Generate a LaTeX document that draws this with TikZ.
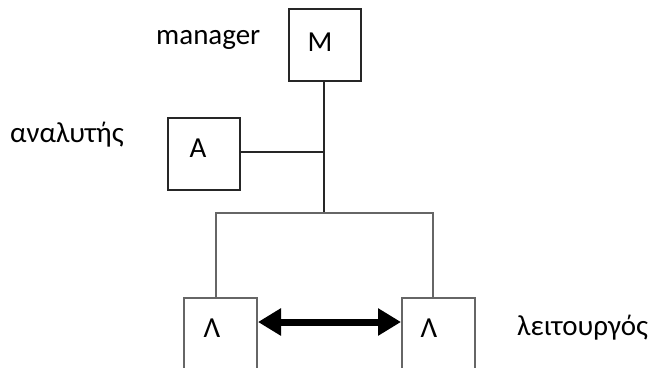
\documentclass[tikz,border=0pt]{standalone}
\usepackage{fontspec}
\setmainfont{Carlito}
\usetikzlibrary{arrows.meta}
\begin{document}
\begin{tikzpicture}[x=1pt,y=-1pt,
  boxa/.style={draw=black!85,line width=1.6pt,minimum width=72pt,minimum height=72pt,inner sep=0pt,anchor=north west},
  boxb/.style={draw=black!60,line width=2pt,minimum width=73pt,minimum height=90pt,inner sep=0pt,anchor=north west},
  lbl/.style={font=\fontsize{29}{32}\selectfont,inner sep=0pt},
  conn/.style={draw=black!85,line width=1.3pt},
  connb/.style={draw=black!60,line width=1.8pt}]
\useasboundingbox (0,0) rectangle (653,367);
\clip (0,0) rectangle (653,367);
\node[boxa] (M) at (288,8) {};
\node[boxa] (A) at (167,117) {};
\node[boxb] (L1) at (183,297) {};
\node[boxb] (L2) at (401,297) {};
\node[lbl] (tM) at (320,42) {M};
\node[lbl] (tA) at (198,148) {A};
\node[lbl] (tL1) at (212,328) {Λ};
\node[lbl] (tL2) at (429,328) {Λ};
\node[lbl,anchor=west] (nM) at (156,40) {manager};
\node[lbl,anchor=west] (nA) at (10,135) {αναλυτής};
\node[lbl,anchor=west] (nL) at (517,328) {λειτουργός};
\coordinate (j1) at (324,152);
\coordinate (j2) at (324,213);
\coordinate (bl) at (216,213);
\coordinate (br) at (433,213);
\draw[conn] (M.south -| j1) -- (j2);
\draw[conn] (A.east |- j1) -- (j1);
\draw[connb] (bl |- L1.north) -- (bl) -- (br) -- (br |- L2.north);
\draw[line width=7pt,{Triangle[length=23pt,width=26pt]}-{Triangle[length=23pt,width=26pt]}] (L1.east |- 0,322) -- (L2.west |- 0,322);
\end{tikzpicture}
\end{document}
